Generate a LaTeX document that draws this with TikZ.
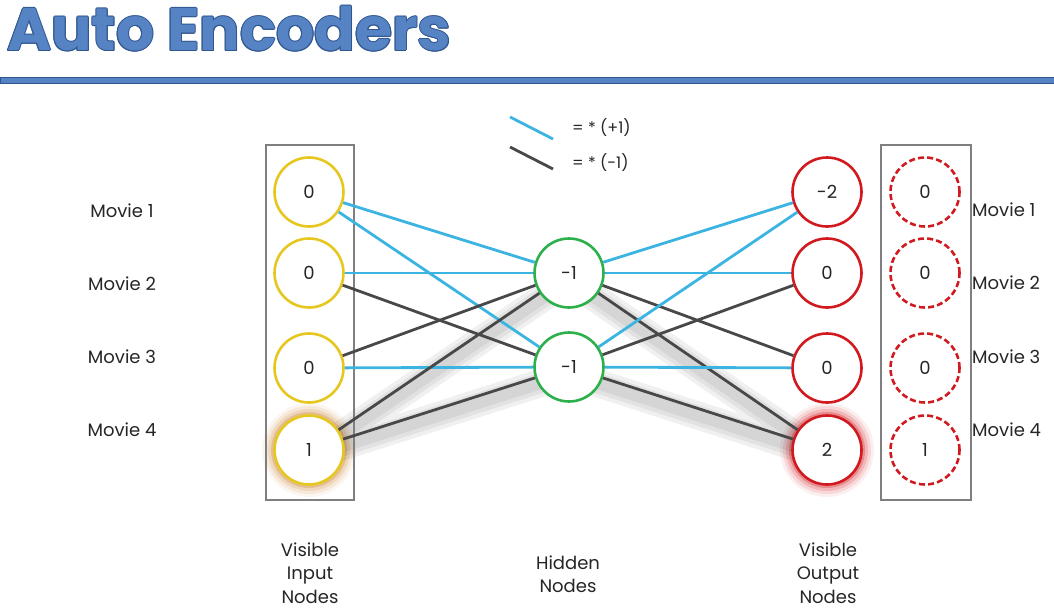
\documentclass[tikz,border=0pt]{standalone}
\usepackage{fontspec}
\setmainfont{Poppins}
\usetikzlibrary{positioning,backgrounds}
\definecolor{titleblue}{HTML}{5683C4}
\definecolor{ruleblue}{HTML}{2F568F}
\definecolor{plusblue}{HTML}{3BB4E1}
\definecolor{minusgray}{HTML}{484848}
\definecolor{inyellow}{HTML}{E6C71F}
\definecolor{hidgreen}{HTML}{2DB04B}
\definecolor{outred}{HTML}{D11A1F}
\definecolor{framegray}{HTML}{7F7F7F}
\definecolor{glowor}{HTML}{C97E2A}

\begin{document}
\begin{tikzpicture}[x=1pt,y=1pt]
                        \tikzstyle{every node}=[inner sep=0,font=\fontsize{18}{23.5}\selectfont,text=black!85]
                        \tikzstyle{note}=[draw=none,fill=white,align=center]
                        \tikzstyle{heading}=[anchor=base west,font=\fontsize{60}{60}\selectfont\bfseries]
                        \tikzstyle{unit}=[circle,fill=white,minimum size=69,line width=2.6]
                        \tikzstyle{vin}=[unit,draw=inyellow]
                        \tikzstyle{hid}=[unit,draw=hidgreen]
                        \tikzstyle{vout}=[unit,draw=outred]
                        \tikzstyle{tgt}=[unit,draw=outred,dash pattern=on 6 off 3.2]
                        \tikzstyle{frame}=[draw=framegray,line width=2.6,minimum width=88,minimum height=355]
                        \tikzstyle{plus}=[draw=plusblue,line width=2.8]
                        \tikzstyle{minus}=[draw=minusgray,line width=2.8]
                        \tikzstyle{shade}=[black,line width=#1,opacity=0.06]
                        {
                            \useasboundingbox (0,0) rectangle (1054,-610);

                            \foreach \dx/\dy in {1/0,-1/0,0/1,0/-1,0.7/0.7,-0.7/0.7,0.7/-0.7,-0.7/-0.7}
                                \node[heading,text=ruleblue] at (7+\dx,-51+\dy) {Auto Encoders};
                            \node[heading,text=titleblue] (title) at (7,-51) {Auto Encoders};
                            \fill[titleblue,draw=ruleblue,line width=1] (0,-77.5) rectangle (1054,-83.5);

                            \node[frame] (inbox) at (310,-322.5) {};
                            \node[frame,minimum width=90] (tgtbox) at (926,-322.5) {};

                            \node[vin] (in1) at (309,-192) {0};
                            \node[vin,node distance=81] (in2) [below of=in1] {0};
                            \node[vin,node distance=95] (in3) [below of=in2] {0};
                            \node[vin,node distance=82] (in4) [below of=in3] {1};

                            \node[hid] (h1) at (569,-273) {-1};
                            \node[hid,node distance=94] (h2) [below of=h1] {-1};

                            \node[vout,node distance=518] (out1) [right of=in1] {-2};
                            \node[vout,node distance=518] (out2) [right of=in2] {0};
                            \node[vout,node distance=518] (out3) [right of=in3] {0};
                            \node[vout,node distance=518] (out4) [right of=in4] {2};

                            \node[tgt,node distance=98] (tgt1) [right of=out1] {0};
                            \node[tgt,node distance=98] (tgt2) [right of=out2] {0};
                            \node[tgt,node distance=98] (tgt3) [right of=out3] {0};
                            \node[tgt,node distance=98] (tgt4) [right of=out4] {1};

                            \begin{scope}[on background layer]
                                \foreach \r/\o in {47/0.07,44/0.11,41/0.17,38/0.28}
                                    \fill[glowor,opacity=\o] (in4) circle (\r);
                                \foreach \r/\o in {47/0.07,44/0.11,41/0.17,38/0.28}
                                    \fill[outred,opacity=\o] (out4) circle (\r);
                                \foreach \w in {28,20,12}
                                    \draw[shade=\w] ([yshift=-7]in4.center) -- ([yshift=-7]h1.center)
                                                    ([yshift=-7]in4.center) -- ([yshift=-7]h2.center)
                                                    ([yshift=-7]h1.center) -- ([yshift=-7]out4.center)
                                                    ([yshift=-7]h2.center) -- ([yshift=-7]out4.center);
                            \end{scope}

                            \path
                                (in1) edge[plus] (h1)
                                (in1) edge[plus] (h2)
                                (in2) edge[plus] (h1)
                                (in2) edge[minus] (h2)
                                (in3) edge[minus] (h1)
                                (in3) edge[plus] (h2)
                                (in4) edge[minus] (h1)
                                (in4) edge[minus] (h2)
                                (h1) edge[plus] (out1)
                                (h1) edge[plus] (out2)
                                (h1) edge[minus] (out3)
                                (h1) edge[minus] (out4)
                                (h2) edge[plus] (out1)
                                (h2) edge[minus] (out2)
                                (h2) edge[plus] (out3)
                                (h2) edge[minus] (out4);

                            \coordinate (pa) at (510,-117);
                            \coordinate (pb) at (553,-139);
                            \coordinate (ma) at (510,-147);
                            \coordinate (mb) at (553,-169);
                            \draw[plus] (pa) -- (pb);
                            \draw[minus] (ma) -- (mb);
                            \node[anchor=west,font=\fontsize{16}{16}\selectfont] (legp) at (572,-128) {= * (+1)};
                            \node[anchor=west,font=\fontsize{16}{16}\selectfont] (legm) at (572,-163) {= * (-1)};

                            \node[note] (mov1) at (122,-211) {Movie 1};
                            \node[note] (mov2) at (122,-284) {Movie 2};
                            \node[note] (mov3) at (122,-357) {Movie 3};
                            \node[note] (mov4) at (122,-430) {Movie 4};
                            \node[note,anchor=west] (tmov1) at (972,-210) {Movie 1};
                            \node[note,anchor=west] (tmov2) at (972,-283) {Movie 2};
                            \node[note,anchor=west] (tmov3) at (972,-357) {Movie 3};
                            \node[note,anchor=west] (tmov4) at (972,-430) {Movie 4};

                            \node[note] (labin) at (310,-573) {Visible\\Input\\Nodes};
                            \node[note] (labhid) at (568,-574) {Hidden\\Nodes};
                            \node[note] (labout) at (828,-573) {Visible\\Output\\Nodes};
                        }
                    \end{tikzpicture}
\end{document}
